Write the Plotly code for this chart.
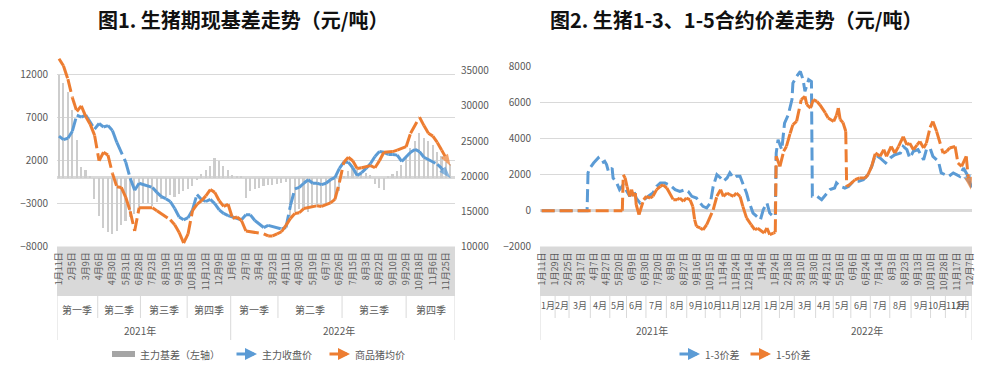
import numpy as np
import plotly.graph_objects as go

W, H = 984, 374
TXT = "#595959"
GRID = "#D9D9D9"
BLUE = "#5B9BD5"
ORANGE = "#ED7D31"
FONT = "Noto Sans CJK SC, Noto Sans, sans-serif"

# ---------------- Figure 1 data (3 samples per label interval) ----------------
left_ticks = ["1月11日", "2月5日", "3月9日", "4月6日", "4月30日", "5月31日", "6月28日", "7月23日",
              "8月19日", "9月15日", "10月18日", "11月12日", "12月9日", "1月6日", "2月7日", "3月4日",
              "3月23日", "4月11日", "4月30日", "5月19日", "6月7日", "6月26日", "7月15日", "8月3日",
              "8月22日", "9月10日", "9月29日", "10月18日", "11月6日", "11月25日"]

basis = [11900, 11000, 10000, 7900, 4400, 1200, 900, 100, -2500, -4500,
         -5800, -6300, -6500, -6200, -5500, -5000, -4600, -4200, -3600, -3000,
         -2900, -3300, -2800, -2500, -2200, -2000, -2300, -1900, -1600, -1300,
         -1000, -300, 400, 900, 1300, 2300, 1900, 1400, 900, 300,
         200, 100, -2400, -1600, -1300, -1200, -1000, -900, -800, -700,
         -600, -500, -4400, -4000, -3700, -3800, -4000, -3500, -3300, -3400,
         -3200, -3000, -2600, -1500, 200, 800, 1200, 1000, 600, 500,
         300, -700, -1200, -1400, 200, 400, 800, 1500, 2500, 3400,
         4200, 5200, 4600, 4200, 3800, 3000, 2500, 1800, 1600]

futures = [25700, 25200, 25400, 26400, 28700, 28400, 28700, 27700, 26700, 27500,
           27000, 27200, 26500, 24800, 23500, 22000, 19700, 18000, 19000, 18800,
           18500, 18400, 17700, 17100, 16800, 16400, 15400, 14200, 13800, 14100,
           15200, 17400, 16700, 16400, 16700, 16100, 15200, 14700, 14400, 14200,
           14100, 13800, 14500, 14500, 13700, 13200, 12700, 13000, 12800, 12700,
           12500, 12700, 15800, 18200, 18400, 19000, 19500, 19000, 19000, 18800,
           19000, 19500, 19800, 21100, 22000, 22000, 21200, 20100, 20500, 21100,
           21800, 22800, 23500, 23400, 23100, 23100, 23000, 22100, 22700, 23400,
           23800, 23500, 22700, 22400, 22100, 21700, 21100, 20400, 19700]

spot = [36700, 35700, 33800, 31200, 29200, 30000, 28500, 27400, 25800, 22200,
        23400, 23000, 20400, 18500, 18400, 17000, 15000, 12200, 15500, 15500,
        15400, 15500, 15100, 14700, 14200, 13800, 13100, 12000, 10500, 11800,
        15100, 16000, 16500, 17200, 18100, 17700, 16500, 15700, 16000, 14000,
        14200, 13700, 12200, 12100, 12100, 12000, 11800, 11500, 11500, 11800,
        12100, 13000, 14000, 14700, 14800, 15400, 15500, 15700, 15800, 15700,
        16000, 16200, 16700, 19100, 22000, 22700, 22200, 21100, 21200, 21400,
        21500, 21200, 22200, 23400, 23400, 23500, 23700, 24000, 24200, 26100,
        27200, 28400, 27200, 26100, 25700, 24800, 23700, 22500, 21400]

quarter_names = ["第一季", "第二季", "第三季", "第四季", "第一季", "第二季", "第三季", "第四季"]
quarter_bounds = [-0.15, 2.9, 6.1, 9.6, 12.86, 16.4, 21.2, 26.0, 29.66]
year_names = ["2021年", "2022年"]
left_year_bounds = [-0.15, 12.86, 29.66]

# ---------------- Figure 2 data (trading-day index) ----------------
right_ticks = ["1月11日", "1月29日", "2月25日", "3月17日", "4月7日", "4月27日", "5月20日", "6月9日",
               "6月30日", "7月20日", "8月9日", "8月27日", "9月16日", "10月15日", "11月4日", "11月24日",
               "12月14日", "1月4日", "1月24日", "2月18日", "3月10日", "3月30日", "4月21日", "5月16日",
               "6月6日", "6月24日", "7月14日", "8月3日", "8月23日", "9月13日", "10月10日", "10月28日",
               "11月17日", "12月7日"]

s13_x = [0, 49, 50, 52, 56, 59, 61, 65, 68, 70,
         72, 76, 77, 81, 83, 84, 88, 92, 95, 99,
         102, 106, 110, 115, 120, 124, 128, 133, 137, 140,
         144, 149, 155, 158, 162, 167, 171, 174, 178, 182,
         185, 189, 193, 196, 200, 203, 207, 210, 214, 217,
         221, 223, 226, 228, 232, 236, 239, 243, 246, 250,
         252, 253, 255, 259, 262, 266, 270, 271, 275, 279,
         282, 284, 288, 291, 292, 297, 302, 306, 311, 316,
         318, 322, 327, 331, 336, 342, 347, 352, 356, 360,
         365, 371, 376, 381, 387, 390, 394, 397, 401, 406,
         412, 415, 419, 422, 428, 431, 435, 439, 444, 448,
         451, 455, 459, 462, 464]
s13 = [0, 0, 2100, 2370, 2650, 2830, 2930, 2650, 2740, 2560,
       2180, 2370, 1820, 1540, 1350, 1170, 1440, 1070, 800, 1170,
       700, 430, 610, 800, 980, 1350, 1540, 1540, 1440, 1350,
       1170, 1070, 1170, 1070, 800, 700, 430, 240, 150, 430,
       1350, 2000, 1820, 1630, 1820, 2100, 1820, 1910, 1910, 1540,
       980, 600, 100, -130, -320, -500, 50, 430, -130, -320,
       -300, 3200, 3940, 3390, 4870, 5330, 6170, 7090, 7460, 7740,
       7280, 6630, 7280, 7180, 800, 800, 610, 890, 1170, 1260,
       1540, 1350, 1260, 1350, 1630, 1630, 1720, 2000, 2460, 3110,
       2930, 2650, 2930, 3110, 3200, 3570, 3390, 2930, 3300, 3390,
       2830, 3390, 3480, 3020, 2740, 2100, 2000, 1910, 2100, 2000,
       1910, 2370, 2000, 1540, 1300]

s15_x = [0, 87, 88, 90, 92, 95, 97, 99, 101, 102,
         105, 108, 110, 113, 117, 120, 124, 128, 131, 135,
         138, 142, 146, 149, 153, 156, 160, 163, 165, 167,
         171, 174, 178, 182, 185, 189, 193, 196, 200, 203,
         207, 210, 214, 217, 221, 226, 230, 233, 237, 240,
         243, 246, 250, 252, 253, 257, 261, 264, 268, 271,
         275, 277, 280, 284, 286, 290, 293, 297, 300, 306,
         309, 315, 318, 320, 322, 325, 328, 329, 332, 338,
         343, 349, 352, 356, 360, 365, 369, 372, 377, 381,
         385, 390, 394, 397, 401, 405, 408, 412, 415, 419,
         422, 426, 430, 433, 437, 440, 446, 449, 453, 456,
         458, 460, 463]
s15 = [0, 0, 2000, 1820, 1350, 800, 1170, 800, 980, 330,
       -220, 240, 610, 800, 700, 800, 1170, 1350, 1440, 1260,
       980, 610, 610, 700, 520, 700, 610, 240, -500, -870,
       -960, -1060, -780, -320, 50, 800, 1170, 800, 980, 890,
       800, 980, 800, 240, -400, -780, -1060, -980, -1150, -1240,
       -960, -1330, -1240, -1200, 3020, 2460, 3300, 3570, 4290, 4780,
       4960, 5520, 6170, 6350, 5890, 5700, 6170, 6070, 5890, 5430,
       5150, 4960, 5300, 5700, 5060, 4900, 4410, 1350, 1440, 1720,
       1820, 1820, 2000, 2460, 3200, 3020, 3390, 3020, 3570, 3200,
       3570, 4120, 3660, 3750, 3390, 3660, 3850, 3480, 3750, 4630,
       4960, 4410, 3750, 3200, 3300, 3480, 3570, 2650, 2460, 2830,
       3020, 1910, 1170]

month_names = ["1月", "2月", "3月", "4月", "5月", "6月", "7月", "8月", "9月", "10月", "11月", "12月"] * 2
month_starts = [0, 15, 30, 53, 74, 92, 113, 135, 157, 177, 193, 215,
                238, 257, 273, 296, 315, 334, 355, 376, 399, 420, 436, 458, 465]


def fx(px):
    return px / W


def fy(py):
    return 1 - py / H


def line_trace(x, y, color, xa, ya):
    n = len(y)
    return go.Scatter(
        x=x, y=y, mode="lines+markers", xaxis=xa, yaxis=ya,
        line=dict(color=color, width=3, dash="13px,5px"),
        marker=dict(symbol="arrow", angleref="previous", size=[0] * (n - 1) + [13],
                    color=color, line=dict(width=0)),
        hoverinfo="skip")


fig = go.Figure()
x1 = np.arange(len(spot)) / 3.0
fig.add_trace(go.Bar(x=x1, y=basis, width=0.12, marker=dict(color="#CDCDCD", line=dict(width=0)),
                     xaxis="x", yaxis="y", hoverinfo="skip"))
fig.add_trace(line_trace(x1, futures, BLUE, "x", "y2"))
fig.add_trace(line_trace(x1, spot, ORANGE, "x", "y2"))
fig.add_trace(line_trace(s13_x, s13, BLUE, "x2", "y3"))
fig.add_trace(line_trace(s15_x, s15, ORANGE, "x2", "y3"))

tickfont = dict(size=10, color=TXT, family=FONT)
xtickfont = dict(size=9, color=TXT, family=FONT)

fig.update_layout(
    width=W, height=H, template="none", showlegend=False,
    margin=dict(l=0, r=0, t=0, b=0),
    paper_bgcolor="white", plot_bgcolor="white",
    font=dict(family=FONT, color=TXT),
    bargap=0,
    xaxis=dict(domain=[fx(57), fx(455)], range=[-0.15, 29.66], anchor="y",
               tickmode="array", tickvals=list(range(len(left_ticks))), ticktext=left_ticks,
               tickangle=-90, tickfont=xtickfont, showgrid=False, zeroline=False,
               showline=False, ticks="", automargin=False, ticklabelstandoff=3),
    yaxis=dict(domain=[fy(246.5), fy(55)], range=[-8000, 14242], anchor="x",
               tickmode="array", tickvals=[-8000, -3000, 2000, 7000, 12000], tickformat="d",
               tickfont=tickfont, showgrid=True, gridcolor=GRID, gridwidth=1,
               zeroline=True, zerolinecolor=GRID, zerolinewidth=3,
               showline=False, ticks="", automargin=False, ticklabelstandoff=8),
    yaxis2=dict(overlaying="y", side="right", anchor="x", range=[10000, 37239],
                tickmode="array", tickvals=[10000, 15000, 20000, 25000, 30000, 35000],
                tickformat="d",
                tickfont=tickfont, showgrid=False, zeroline=False, showline=False,
                ticks="", automargin=False, ticklabelstandoff=5),
    xaxis2=dict(domain=[fx(540), fx(972)], range=[-1.8, 464.2], anchor="y3",
                tickmode="array", tickvals=[14 * i for i in range(len(right_ticks))],
                ticktext=right_ticks, tickangle=-90, tickfont=xtickfont,
                showgrid=False, zeroline=False, showline=False, ticks="",
                automargin=False, ticklabelstandoff=3),
    yaxis3=dict(domain=[fy(246.7), fy(66.7)], range=[-2000, 8000], anchor="x2",
                tickmode="array", tickvals=[-2000, 0, 2000, 4000, 6000, 8000], tickformat="d",
                tickfont=tickfont, showgrid=True, gridcolor=GRID, gridwidth=1,
                zeroline=True, zerolinecolor=GRID, zerolinewidth=3,
                showline=False, ticks="", automargin=False, ticklabelstandoff=8),
)

shapes = []
ann = []
SEP = "#D9D9D9"


def label(x, y, text, xref="paper", size=10, xanchor="center", color=TXT):
    return dict(x=x, y=y, xref=xref, yref="paper", text=text, showarrow=False,
                xanchor=xanchor, yanchor="middle", font=dict(size=size, color=color, family=FONT))


# gray label bands
for x0, x1b in [(57, 455), (540, 972)]:
    shapes.append(dict(type="rect", xref="paper", yref="paper", x0=fx(x0), x1=fx(x1b),
                       y0=fy(296), y1=fy(246.5), fillcolor="#D9D9D9", line=dict(width=0),
                       layer="below"))

# left multi-level axis
for i, name in enumerate(quarter_names):
    a, b = quarter_bounds[i], quarter_bounds[i + 1]
    ann.append(label((a + b) / 2, fy(309), name, xref="x"))
for b in quarter_bounds:
    full = b in left_year_bounds
    shapes.append(dict(type="line", xref="x", yref="paper", x0=b, x1=b, y0=fy(296),
                       y1=fy(340 if full else 318), line=dict(color=SEP, width=1)))
for i, name in enumerate(year_names):
    a, b = left_year_bounds[i], left_year_bounds[i + 1]
    ann.append(label((a + b) / 2 - 0.3, fy(330), name, xref="x"))

# right multi-level axis
for i, name in enumerate(month_names):
    a, b = month_starts[i], month_starts[i + 1] - 1
    if i == len(month_names) - 1:
        ann.append(label(464.2, fy(305), name, xref="x2", size=9, xanchor="right"))
    else:
        ann.append(label((a + b) / 2, fy(305), name, xref="x2", size=9))
for s in month_starts:
    xb = min(max(s - 0.5, -1.8), 464.2)
    full = s in (0, 238, 465)
    if s == 0:
        xb = -1.8
    shapes.append(dict(type="line", xref="x2", yref="paper", x0=xb, x1=xb, y0=fy(296),
                       y1=fy(340 if full else 318), line=dict(color=SEP, width=1)))
for i, name in enumerate(year_names):
    a, b = month_starts[12 * i], month_starts[12 * (i + 1)] - 1
    ann.append(label((a + b) / 2, fy(330), name, xref="x2"))

# titles
ann.append(label(fx(243), fy(20), "<b>图1. 生猪期现基差走势（元/吨）</b>", size=20, color="#111111"))
ann.append(label(fx(736), fy(20), "<b>图2. 生猪1-3、1-5合约价差走势（元/吨）</b>", size=20, color="#111111"))

# custom legends
LY = 354
shapes.append(dict(type="rect", xref="paper", yref="paper", x0=fx(112), x1=fx(135),
                   y0=fy(LY + 3), y1=fy(LY - 3), fillcolor="#A5A5A5", line=dict(width=0)))
legend_items = [(235, 257, BLUE, 260, "主力收盘价"), (328, 350, ORANGE, 353, "商品猪均价"),
                (678, 700, BLUE, 703, "1-3价差"), (749, 771, ORANGE, 774, "1-5价差")]
ann.append(label(fx(138), fy(LY), "主力基差（左轴）", xanchor="left"))
for xa, xb, col, xt, text in legend_items:
    ann.append(dict(x=fx(xb), y=fy(LY), ax=xa - xb, ay=0, xref="paper", yref="paper",
                    axref="pixel", ayref="pixel", text="", showarrow=True, arrowhead=2,
                    arrowsize=0.8, arrowwidth=3, arrowcolor=col))
    ann.append(label(fx(xt), fy(LY), text, xanchor="left"))

fig.update_layout(shapes=shapes, annotations=ann)
fig.write_html("out.html", config={"displayModeBar": False},
               post_script="document.body.style.margin='0';document.body.style.padding='0';")
